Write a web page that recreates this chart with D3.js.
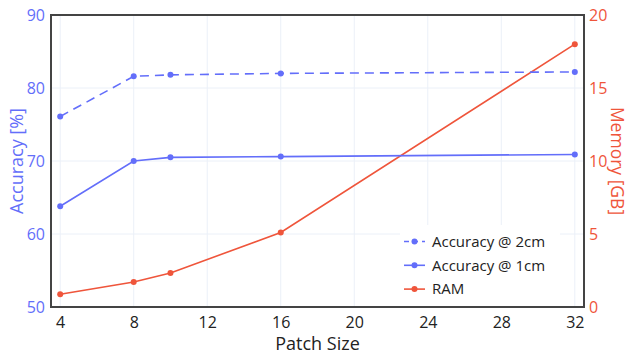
<!DOCTYPE html>
<html><head><meta charset="utf-8">
<script src="https://cdn.jsdelivr.net/npm/d3@7"></script>
<style>body{margin:0;background:#fff}svg{display:block;font-family:"Open Sans",sans-serif}</style>
</head><body><svg id="c" width="631" height="355"></svg>
<script>
const patchSizes = [4, 8, 10, 16, 32];
const acc2cm = [76.1, 81.6, 81.8, 82.0, 82.2];
const acc1cm = [63.8, 70.0, 70.5, 70.6, 70.9];
const ramGB = [0.87, 1.71, 2.33, 5.1, 18.0];
const xTicks = [4, 8, 12, 16, 20, 24, 28, 32];
const accTicks = [50, 60, 70, 80, 90];
const memTicks = [0, 5, 10, 15, 20];
const legendNames = ["Accuracy @ 2cm", "Accuracy @ 1cm", "RAM"];

const blue = "#636efa", red = "#ef553b", grid = "#ebf0f8", frame = "#444";
const svg = d3.select("#c");
const L = 51, R = 584, T = 15, B = 307;
const x = d3.scaleLinear().domain([3.5, 32.5]).range([L, R]);
const yA = d3.scaleLinear().domain([50, 90]).range([B, T]);
const yM = d3.scaleLinear().domain([0, 20]).range([B, T]);

// grid
svg.append("g").selectAll("line").data(xTicks).join("line")
  .attr("x1", d => x(d)).attr("x2", d => x(d)).attr("y1", T).attr("y2", B)
  .attr("stroke", grid).attr("stroke-width", 1);
svg.append("g").selectAll("line").data(accTicks.slice(1, -1)).join("line")
  .attr("x1", L).attr("x2", R).attr("y1", d => yA(d)).attr("y2", d => yA(d))
  .attr("stroke", grid).attr("stroke-width", 1);

// lines
function series(vals, y, color, dash) {
  const pts = patchSizes.map((p, i) => [p, vals[i]]);
  svg.append("path").datum(pts)
    .attr("d", d3.line().x(d => x(d[0])).y(d => y(d[1])))
    .attr("fill", "none").attr("stroke", color).attr("stroke-width", 1.6)
    .attr("stroke-dasharray", dash || null);
  svg.append("g").selectAll("circle").data(pts).join("circle")
    .attr("cx", d => x(d[0])).attr("cy", d => y(d[1])).attr("r", 3).attr("fill", color);
}
series(ramGB, yM, red);
series(acc1cm, yA, blue);
series(acc2cm, yA, blue, "9,6");

// frame
svg.append("rect").attr("x", L).attr("y", T).attr("width", R - L).attr("height", B - T)
  .attr("fill", "none").attr("stroke", frame).attr("stroke-width", 2);

// axes
const ax = svg.append("g").attr("transform", `translate(0,${B})`)
  .call(d3.axisBottom(x).tickValues(xTicks).tickSize(0).tickPadding(10));
ax.select(".domain").remove();
ax.selectAll("text").attr("font-size", 16).attr("fill", "#222").attr("font-family", "Open Sans");

const al = svg.append("g").attr("transform", `translate(${L},0)`)
  .call(d3.axisLeft(yA).tickValues(accTicks).tickSize(0).tickPadding(6));
al.select(".domain").remove();
al.selectAll("text").attr("font-size", 16).attr("fill", blue).attr("font-family", "Open Sans");

const ar = svg.append("g").attr("transform", `translate(${R},0)`)
  .call(d3.axisRight(yM).tickValues(memTicks).tickSize(0).tickPadding(5));
ar.select(".domain").remove();
ar.selectAll("text").attr("font-size", 16).attr("fill", red).attr("font-family", "Open Sans");

// titles
svg.append("text").attr("x", (L + R) / 2).attr("y", 350).attr("text-anchor", "middle")
  .attr("font-size", 18).attr("fill", "#222").text("Patch Size");
svg.append("text").attr("transform", `translate(23,${(T + B) / 2}) rotate(-90)`)
  .attr("text-anchor", "middle").attr("font-size", 18).attr("fill", blue).text("Accuracy [%]");
svg.append("text").attr("transform", `translate(611,${(T + B) / 2}) rotate(90)`)
  .attr("text-anchor", "middle").attr("font-size", 17.5).attr("fill", red).text("Memory [GB]");

// legend
const lg = svg.append("g");
lg.append("rect").attr("x", 400).attr("y", 225).attr("width", 160).attr("height", 81).attr("fill", "#fff");
const lgColors = [blue, blue, red], lgDash = ["5,4", null, null];
legendNames.forEach((n, i) => {
  const cy = 241.5 + i * 23.8;
  lg.append("line").attr("x1", 404).attr("x2", 425).attr("y1", cy).attr("y2", cy)
    .attr("stroke", lgColors[i]).attr("stroke-width", 1.6).attr("stroke-dasharray", lgDash[i]);
  lg.append("circle").attr("cx", 414.5).attr("cy", cy).attr("r", 3).attr("fill", lgColors[i]);
  lg.append("text").attr("x", 432).attr("y", cy).attr("dy", "0.35em").attr("font-size", 15)
    .attr("fill", "#222").text(n);
});
</script></body></html>
